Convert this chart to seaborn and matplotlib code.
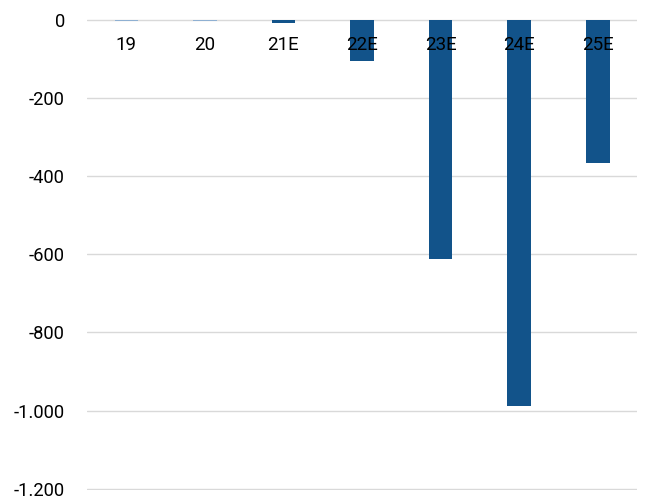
import matplotlib
matplotlib.use("Agg")
import matplotlib.pyplot as plt
import seaborn as sns
import pandas as pd
from matplotlib.ticker import FuncFormatter, MultipleLocator

categories = ["19", "20", "21E", "22E", "23E", "24E", "25E"]
values = [-4, -4, -7, -105, -613, -988, -366]
colors = ["#8fb0d2", "#8fb0d2", "#12538a", "#12538a", "#12538a", "#12538a", "#12538a"]

sns.set_theme(style="white")
plt.rcParams["font.family"] = ["Roboto", "DejaVu Sans"]

df = pd.DataFrame({"cat": categories, "val": values})

fig = plt.figure(figsize=(6.48, 4.99), dpi=100)
ax = fig.add_axes([87 / 648, 9 / 499, 550 / 648, 471 / 499])

sns.barplot(data=df, x="cat", y="val", hue="cat", palette=colors, legend=False,
            width=0.3, saturation=1, linewidth=0, ax=ax)

ax.set_ylim(-1203, 2)
ax.yaxis.set_major_locator(MultipleLocator(200))
ax.yaxis.set_major_formatter(FuncFormatter(lambda v, p: f"{int(round(v)):,}".replace(",", ".")))
ax.set_axisbelow(True)
ax.grid(axis="y", color="#d9d9d9", linewidth=1)
ax.grid(axis="x", visible=False)
ax.xaxis.set_zorder(5)
for s in ax.spines.values():
    s.set_visible(False)
ax.spines["bottom"].set_position(("data", 0))
ax.tick_params(axis="x", length=0, pad=12, labelsize=13.5, colors="#000000")
ax.tick_params(axis="y", length=0, pad=16, labelsize=13.2, colors="#000000")
ax.set_xlabel("")
ax.set_ylabel("")

fig.savefig("out.png", dpi=100)
